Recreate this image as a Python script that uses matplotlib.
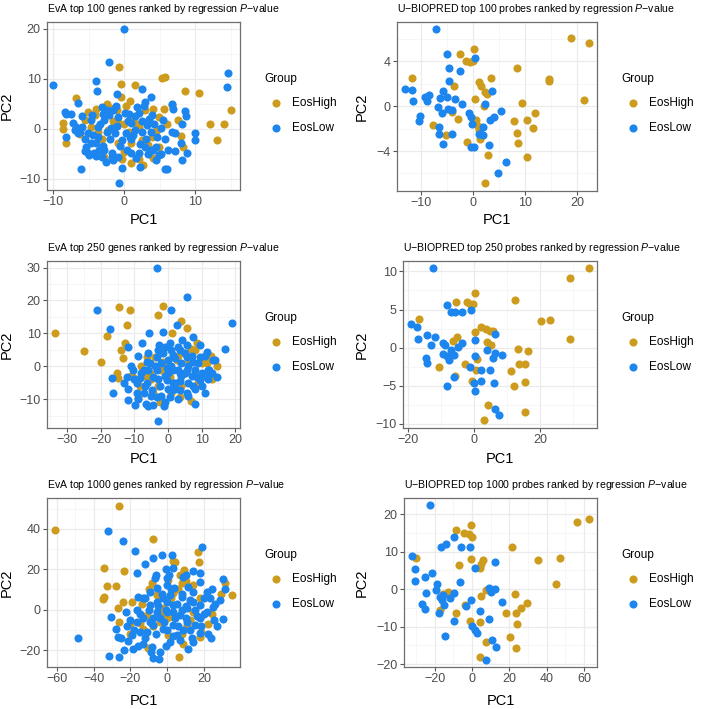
import matplotlib
matplotlib.use("Agg")
import matplotlib.pyplot as plt
from matplotlib.ticker import MultipleLocator

plt.rcParams["font.family"] = ["Liberation Sans", "DejaVu Sans"]
plt.rcParams["mathtext.fontset"] = "custom"
plt.rcParams["mathtext.it"] = "Liberation Sans:italic"
plt.rcParams["mathtext.rm"] = "Liberation Sans"

HIGH = "#CD9B1D"
LOW = "#1C86EE"

groups = ["EosHigh", "EosLow"]

# EvA top 100
eva100_high_x = [-0.7, -0.5, 1.5, -6.8, -0.5, 5.3, 5.7, 8.5, 10.5, 15.0, 12.1, 14.0, 13.0, 6.7, 5.6, 4.9,
                 7.5, 8.0, 8.2, -8.6, -8.6, -8.2, -5.1, -4.2, -2.0, 0.3, -1.1, -0.9, 0.0, 1.3, 2.9, 4.0,
                 4.6, 3.9, 2.5, 2.9, 1.0, -0.9, -0.1, 1.0, 2.6, 4.1, -2.9, -3.7, -4.7, -5.6, -2.3, 4.9,
                 2.0, 0.6, -6.2, -3.2, -1.6, 1.8, 3.4, -2.5, 0.8, -4.0, 6.0, 2.0, -0.3, 5.0]
eva100_high_y = [12.3, 8.9, 8.7, 6.2, 6.3, 10.1, 10.4, 7.6, 7.1, 3.7, 1.0, 0.9, -2.3, 4.7, 3.9, 2.4,
                 1.7, -1.5, -3.6, 1.1, 0.0, -2.8, 3.4, 2.7, 4.1, 4.5, 3.7, 1.4, 0.9, 2.4, 3.7, 3.9,
                 -0.3, -1.6, -2.3, -2.6, -2.9, -2.9, -4.6, -6.9, -7.3, -5.9, -5.6, -0.6, 0.4, 1.7, -0.3, -3.6,
                 0.4, -0.6, -1.0, -2.0, 1.5, 1.0, -3.2, 5.0, 5.5, 4.0, 1.0, -6.0, -6.0, -5.0]
eva100_low_x = [0.0, -2.2, -10.1, -4.0, -3.9, 2.5, 3.7, 2.9, -1.0, -6.6, 6.7, 6.8, 8.5, 8.7, 5.5, 5.1,
                8.1, 7.2, 6.7, 9.9, 10.0, 8.0, 7.1, 8.9, 8.1, 5.7, 6.0, 5.2, 4.4, 2.2, -0.4, -0.8,
                -6.1, -5.1, -5.4, -8.2, -8.2, -7.3, 14.6, 14.5, -3.2, -2.5, -1.6, -0.9, 0.1, 1.8, 2.0, 3.9,
                -2.8, -3.7, -4.7, -5.9, -6.3, -5.1, -3.7, -2.5, -1.3, -0.4, 0.8, 1.5, 2.5, 2.9, 2.0, 1.0,
                -0.9, -1.8, -2.8, -4.0, -4.7, -3.2, -1.6, 3.7, 4.4, 4.9, 4.6, 3.7, 3.2, 1.0, 0.3, -7.0,
                -6.6, -5.5, -4.3, -3.0, -2.0, -1.0, 0.5, 1.5, 2.5, 3.5, -6.0, -7.5, -8.4, -6.8, -5.6, -4.4,
                -3.4, -2.2, -1.2, 0.6, 1.2, 2.2, 3.3, 1.6, 0.4, -0.6, -1.7, -2.6, -3.6, 4.2, 5.8, 6.2,
                -1.9, 0.9, -4.6, -3.0, 2.8, -5.0, -4.0, 3.0, 4.0]
eva100_low_y = [20.0, 13.4, 8.7, 9.6, 7.6, 7.9, 6.4, 5.4, 6.9, 5.1, 4.9, 3.9, 3.6, 2.6, 1.7, 0.1,
                0.9, -0.8, -0.6, -0.9, -2.3, -2.8, -4.4, -4.9, -6.3, -8.0, -8.0, -5.1, -6.3, -7.6, -7.8, -10.8,
                -8.0, -4.8, -3.6, 2.9, -1.7, 1.1, 11.2, 8.3, 4.4, 3.7, 3.7, 2.4, 3.2, 4.4, 3.1, 2.7,
                1.7, 0.4, 1.7, 0.4, -0.6, -0.9, -1.6, -0.6, -0.9, -2.3, -1.6, -0.3, -0.6, -3.6, -4.9, -4.9,
                -5.6, -4.9, -4.3, -2.9, -2.9, -5.6, -6.3, -4.3, -3.6, -5.3, -1.6, -0.6, 0.7, 1.1, -0.9, -0.3,
                -0.9, -4.5, -4.8, -3.5, -2.0, 0.5, 1.5, 2.5, 1.5, 2.0, 2.5, 3.0, 3.4, 0.3, -2.0, -1.2,
                1.0, 2.8, 4.6, 3.0, -1.2, -3.0, -5.0, -5.8, -4.2, -3.4, -5.6, -6.6, -4.2, 1.0, -2.0, -4.2,
                0.2, -2.0, 2.8, 3.0, 4.6, -5.2, -5.5, -2.0, -4.2]

# U-BIOPRED top 100
ub100_high_x = [18.7, 22.2, 21.3, 14.5, 14.5, 8.4, 3.3, 0.2, -2.6, -1.5, -0.6, 0.0, 1.1, 1.5, 2.2, 2.7,
                0.3, 2.1, -11.8, -3.8, -4.2, -2.9, 0.5, 0.8, 1.0, 1.3, -1.3, -5.3, -7.7, 2.9, 2.2, 9.3,
                7.9, 10.4, 11.9, 11.5, 8.4, 8.6, 10.4]
ub100_high_y = [6.10, 5.63, 0.54, 2.41, 2.23, 3.36, 2.47, 5.06, 4.61, 4.05, 3.96, 4.05, 2.17, 1.79, 1.28, 1.07,
                0.68, 0.0, 2.53, 1.79, -0.51, -1.16, -1.19, -1.79, -2.14, -2.89, -3.18, -2.59, -1.70, -4.32, -6.85, 0.24,
                -1.31, -1.25, -0.65, -1.93, -2.35, -3.27, -4.52]
ub100_low_x = [-7.2, -5.1, 0.3, -4.7, -2.5, -4.7, -13.1, -11.9, -11.7, -9.3, -8.5, -9.0, -6.5, -5.8, -5.1, -3.5,
               -2.2, -6.9, -4.8, -4.2, -6.1, -10.2, -10.4, -0.8, -0.4, -0.2, -6.7, -6.7, -4.2, -5.8, -0.4, 0.2,
               1.0, 1.9, 1.9, 3.2, 4.0, 5.3, 3.5, 2.2, 3.0, 6.2, 4.7, 1.3]
ub100_low_y = [6.85, 4.64, 4.26, 3.36, 3.10, 2.26, 1.52, 1.43, 0.42, 0.83, 0.98, 0.48, 0.77, 1.34, 0.83, 0.60,
               0.15, -0.06, -0.21, -0.36, -0.65, -0.89, -1.31, -0.57, -1.01, -1.61, -1.85, -2.44, -2.44, -3.33, -3.63, -3.63,
               -2.44, -2.59, -1.85, -1.25, -1.01, -0.42, 1.34, 0.18, -3.48, -4.97, -5.92, -2.44]

# EvA top 250
eva250_high_x = [-33.6, -25.0, -19.9, -18.2, -14.6, -11.3, -12.3, -12.8, -14.1, -13.5, -3.1, -1.4, 3.9, 5.5, 1.3, -15.2,
                 -15.0, -10.3, -8.8, -6.3, -3.9, -1.4, -0.4, 2.6, 4.6, 6.9, 8.5, 12.7, 14.5, 9.5, 3.6, 6.9,
                 -2.4, -5.3, 0.6, -8.3, 5.1, 11.5, -4.4, 2.6, -8.0, -5.0, -2.0, 3.0, 6.0, 8.0, 10.0, 12.0,
                 -3.0, 1.0, 4.0, -11.0, -7.0, 9.0, 13.0]
eva250_high_y = [10.0, 4.7, 1.4, 9.2, 18.0, 17.0, 12.5, 7.0, 4.9, 2.6, 15.6, 18.4, 13.7, 11.5, 10.2, -1.9,
                 -3.5, -3.1, -9.7, 2.9, 2.9, 1.4, 0.4, 1.9, 3.9, 5.4, 7.0, 3.1, 0.1, -3.1, -9.2, -10.4,
                 -10.7, -2.1, -3.1, -6.1, -2.1, 0.9, -8.2, -5.1, 0.0, -4.0, -1.0, 3.0, 2.0, 5.0, 1.0, 2.0,
                 -6.0, -8.0, -6.0, -3.0, -3.0, -5.0, -4.0]
eva250_low_x = [-3.4, 5.5, -21.0, 0.9, -17.2, 19.1, 2.8, 16.8, -5.7, -1.4, 7.3, -7.8, -2.6, 9.5, -11.8, 11.5,
                -16.6, -16.4, -12.3, -11.8, -12.0, -9.8, -6.5, -4.4, -3.0, -1.2, 0.6, 8.0, 10.9, 14.7, 12.3, -10.3,
                -8.3, -6.3, -4.9, -2.4, -0.4, 1.6, 3.6, 5.5, 7.5, 9.5, 11.5, -5.3, -3.4, -1.4, 1.6, 3.6,
                5.5, 7.5, 9.5, 13.5, 1.6, 3.6, 5.5, -0.4, -3.4, -7.3, -4.4, 1.1, 3.6, 8.5, -9.3, -7.3,
                4.1, 5.5, 0.6, -9.3, -3.4, -6.3, -8.0, -6.0, -4.0, -2.0, 0.0, 2.0, 4.0, 6.0, 8.0, 10.0,
                12.0, -10.0, -7.0, -5.0, -2.0, 0.0, 2.0, 4.0, 6.0, 8.0, 10.0, 12.0, -3.0, -1.0, 1.0, 3.0,
                5.0, 7.0, 9.0, 11.0, 13.0, -6.0, -9.0, -11.0, -13.0, -9.0, -6.0, -1.0, 3.0, 6.0, 14.0, 1.0,
                -1.0, 3.0, 5.0, 7.0, -3.0, 0.0, 2.0]
eva250_low_y = [29.9, 21.0, 17.0, 17.0, 11.4, 13.3, 12.7, 5.3, 10.0, 10.4, 9.0, 7.0, 6.5, 6.5, 5.9, 4.4,
                -3.7, -8.1, -3.1, -7.0, -10.2, -11.7, -11.4, -11.7, -16.5, -12.2, -9.2, -11.4, -8.0, -3.1, -1.1, -1.1,
                -3.6, -5.1, -7.2, -6.1, -4.1, -5.1, -7.2, -8.2, -6.1, -4.1, -3.1, 0.9, 2.9, 3.9, 3.4, 4.9,
                2.9, 1.4, 2.9, 1.9, -1.1, -2.1, -1.1, -0.6, -1.1, -1.1, -3.1, -7.2, -4.6, -3.1, -5.1, -8.2,
                8.0, 6.5, 7.0, -8.2, -9.2, 1.4, -2.0, -1.0, 0.0, 1.0, 2.0, 2.5, 1.0, 0.0, -1.0, -2.0,
                -1.0, -4.0, -6.0, -9.0, -9.0, -7.0, -5.0, -3.0, -5.0, -7.0, -6.0, -4.0, 5.0, 6.0, 5.0, 6.0,
                4.0, 3.0, 1.0, 3.0, -2.0, 4.0, 3.0, 0.0, -5.0, -10.0, -12.0, -11.0, -10.0, -9.0, 2.0, 0.0,
                -3.0, -1.0, -2.0, -3.0, -4.0, -2.0, -7.0]

# U-BIOPRED top 250
ub250_high_x = [34.7, 28.9, 28.9, 23.0, 20.3, 12.5, 0.2, -5.5, -2.0, -1.3, -0.3, -16.7, 0.4, 2.0, 3.7, 4.7,
                5.7, 4.0, 5.0, -6.3, -5.0, 13.3, 16.3, 13.7, 15.5, 11.1, 12.2, 15.3, 15.3, 4.2, 2.9, -10.6,
                -2.8, -0.5, 1.0, 0.7, -5.8]
ub250_high_y = [10.4, 9.2, 1.1, 3.6, 3.5, 6.3, 7.2, 6.0, 6.0, 5.7, 5.7, 3.7, 2.0, 2.7, 2.4, 2.2,
                2.2, 0.8, 0.35, 0.9, 1.35, -0.2, -0.4, -2.2, -2.1, -3.0, -5.0, -4.5, -8.5, -7.5, -9.5, -2.6,
                -2.2, -4.4, -1.5, -2.9, -3.7]
ub250_low_x = [-12.4, -8.2, -6.8, -5.8, -3.6, -0.8, -18.9, -17.1, -16.9, -14.1, -11.7, -13.1, -9.3, -8.8, -9.2, -8.0,
               -7.5, -6.8, -6.0, -4.8, -3.6, -14.4, -14.1, -6.0, -8.2, -1.3, 0.2, 0.2, 2.2, 4.0, 4.7, 5.7,
               6.2, 6.4, 8.5, 6.0, 2.0, 0.0, 0.2, 6.4, 7.5]
ub250_low_y = [10.5, 5.6, 4.7, 4.7, 4.7, 4.9, 3.1, 2.7, 1.2, 1.7, 1.4, 0.4, 0.6, 0.35, -0.8, -1.1,
               -1.6, -0.3, -1.0, 0.1, 0.65, -1.4, -2.0, -3.8, -5.0, -2.5, 1.0, -1.1, -2.9, -0.3, -2.9, -1.4,
               1.8, -0.7, -1.0, -4.7, -4.4, -4.7, -5.7, -8.1, -8.9]

# EvA top 1000
eva1000_high_x = [-60.7, -26.1, -7.6, -34.6, -23.4, -27.9, -32.8, -34.6, -34.9, -24.1, -26.5, -19.3, -26.3, -20.5, -10.3, 6.5,
                  3.2, 4.1, 16.8, 17.3, 6.8, 9.2, -8.5, 0.2, 3.2, 7.7, 10.1, 31.2, 28.8, 34.8, 22.2, 17.7,
                  8.6, -4.0, -11.2, -14.8, -2.2, 3.2, 10.5, 14.1, 17.7, -5.8, -13.0, 0.5, -14.0, -8.0, -3.0, 2.0,
                  6.0, 12.0, 18.0, 24.0, -20.0, 0.0, 8.0, 14.0, -10.0]
eva1000_high_y = [39.5, 51.4, 35.0, 20.8, 19.2, 11.7, 11.7, 6.4, 5.1, 4.0, 0.7, 4.0, -6.0, -7.3, -18.8, -23.3,
                  24.1, 23.8, 28.4, 23.5, 17.2, 19.7, 13.1, 14.7, 8.1, 13.1, 14.2, 13.1, 7.6, 7.3, -7.3, -13.4,
                  -16.7, -6.0, -2.6, -6.8, 0.7, -3.5, -7.6, -1.0, 5.6, 7.3, -9.3, -12.6, 3.0, -8.0, -2.0, 6.0,
                  10.0, -5.0, -11.0, -2.0, -12.0, -4.0, -12.0, 12.0, 10.0]
eva1000_low_x = [-48.6, -32.4, -23.8, -17.5, -12.1, -7.6, -3.1, 2.7, 18.9, -16.6, -0.9, 3.2, 14.1, 17.7, -6.7, -0.4,
                 8.3, 29.9, 31.4, 28.5, 29.9, 23.4, -30.5, -27.6, -27.0, -31.9, -26.1, -23.4, -18.7, -21.1, -22.3, -16.6,
                 -15.7, -13.0, -9.4, -5.8, -0.4, 3.8, 11.4, 17.7, 21.3, 23.1, 24.9, 21.3, 17.7, 14.9, 13.2, 11.4,
                 5.0, 1.4, -4.0, -7.6, -4.3, -8.5, -13.0, -11.2, -14.8, -7.6, -4.0, -0.4, 3.2, 6.8, 10.5, 14.1,
                 17.7, -5.8, -9.4, -13.0, -9.4, -2.2, 3.2, 8.6, 17.7, -2.2, 1.4, 7.7, 3.2, -5.8, 10.5, -16.6,
                 -19.3, -20.0, -15.0, -10.0, -5.0, 0.0, 5.0, 10.0, 15.0, 20.0, 25.0, -18.0, -12.0, -6.0, 0.0, 6.0,
                 12.0, 18.0, 22.0, -3.0, 2.0, 8.0, 14.0, 20.0, 26.0, -8.0, -2.0, 4.0, 10.0, 16.0, -12.0, -22.0,
                 -25.0, -16.0, -9.0, -1.0, 7.0, 14.0, 27.0, 24.0, -6.0, 1.0, 10.0, -1.0, 3.0, 8.0, 12.0]
eva1000_low_y = [-14.2, 38.7, 34.0, 29.1, 22.5, 25.8, 27.1, 27.1, 31.2, 18.0, 20.2, 20.8, 19.2, 18.0, 15.5, 15.9,
                 16.4, 15.2, 10.2, 4.8, -4.6, -13.9, -3.8, -9.6, -13.4, -23.0, -23.3, -20.0, -19.5, -15.5, -1.0, -0.2,
                 6.4, 5.6, 8.9, 10.6, 12.2, 10.6, 11.4, 13.9, 8.9, 5.6, 1.5, -1.0, -4.3, -7.6, -14.2, -19.2,
                 -12.6, -15.9, -20.8, -24.1, -24.5, -18.3, -16.7, -10.9, -10.9, -7.6, -4.3, -1.0, 2.3, -2.6, 0.7, 4.0,
                 2.3, 4.0, 2.3, -4.3, -6.0, -9.3, -7.6, -10.1, -11.7, 5.6, 7.3, 6.4, -1.0, -1.0, -6.0, -6.0,
                 -12.6, -5.0, -2.0, 0.0, 2.0, 4.0, 3.0, 2.0, 0.0, -2.0, -5.0, -10.0, -14.0, -12.0, -10.0, -8.0,
                 -10.0, -8.0, -12.0, 8.0, 10.0, 8.0, 9.0, 6.0, 3.0, -4.0, -6.0, -4.0, -4.0, -3.0, 6.0, -8.0,
                 -14.0, -18.0, -21.0, -18.0, -15.0, -16.0, -8.0, 10.0, 17.0, 17.0, 17.0, 0.0, -13.0, 0.0, 5.0]

# U-BIOPRED top 1000
ub1000_high_x = [-30.2, -8.4, -4.3, -1.6, -0.7, 0.0, -7.1, -0.7, 4.6, 4.1, 5.9, 21.6, 35.4, 47.3, 45.2, 56.3,
                 62.5, 5.0, 7.7, 10.0, -17.3, -15.5, -12.9, -8.4, -3.9, -0.9, 4.1, 7.3, 4.1, 18.0, 22.9, 23.4,
                 26.4, 29.3, 24.1, 20.2, 23.4]
ub1000_high_y = [8.2, 15.8, 14.9, 14.7, 17.0, 13.8, 6.3, 8.0, 6.6, 5.5, 7.8, 11.3, 7.8, 8.4, 1.3, 18.0,
                 18.7, -1.9, -0.3, -0.3, -5.6, -1.2, -0.9, -6.3, -4.3, -8.4, -8.8, -14.1, -18.1, -6.5, -1.2, -6.3,
                 -5.0, -3.7, -9.2, -12.8, -15.7]
ub1000_low_x = [-22.3, -32.0, -30.7, -30.7, -21.3, -25.0, -24.5, -26.6, -25.4, -18.8, -19.1, -17.3, -16.1, -15.0, -17.9, -14.6,
                -11.6, -9.8, -9.6, -16.8, -14.1, -9.8, -5.7, -0.9, -6.3, -3.4, -0.4, 1.4, 0.0, 1.4, 2.7, 4.5,
                9.1, 9.1, 10.0, 12.1, 12.5, 16.1, 10.7, 13.0, 7.7, -15.5]
ub1000_low_y = [22.3, 8.9, 5.3, 2.2, 4.4, 3.1, -1.0, -4.0, -5.4, 1.3, -0.3, -2.1, -2.9, -4.3, -6.5, -12.5,
                -2.5, -1.0, -8.5, 11.1, 12.1, 13.9, 11.1, 11.3, 1.8, -4.6, -2.9, 5.5, -9.9, -10.8, -11.7, -5.9,
                -7.9, 0.4, -0.7, 0.0, 7.1, -3.4, -13.7, -15.4, -18.8, -1.6]

titles = [
    "EvA top 100 genes ranked by regression $P$\u2212value",
    "U\u2212BIOPRED top 100 probes ranked by regression $P$\u2212value",
    "EvA top 250 genes ranked by regression $P$\u2212value",
    "U\u2212BIOPRED top 250 probes ranked by regression $P$\u2212value",
    "EvA top 1000 genes ranked by regression $P$\u2212value",
    "U\u2212BIOPRED top 1000 probes ranked by regression $P$\u2212value",
]

panels = [
    dict(hx=eva100_high_x, hy=eva100_high_y, lx=eva100_low_x, ly=eva100_low_y,
         box=(47, 22, 240, 190), xlim=(-10.9, 16.3), ylim=(-12.3, 21.4), xmaj=10, ymaj=10, xlab=213),
    dict(hx=ub100_high_x, hy=ub100_high_y, lx=ub100_low_x, ly=ub100_low_y,
         box=(397, 22, 597, 191), xlim=(-14.7, 23.8), ylim=(-7.56, 7.5), xmaj=10, ymaj=4, xlab=213),
    dict(hx=eva250_high_x, hy=eva250_high_y, lx=eva250_low_x, ly=eva250_low_y,
         box=(47, 261, 240, 428), xlim=(-36.0, 21.4), ylim=(-18.75, 32.0), xmaj=10, ymaj=10, xlab=452),
    dict(hx=ub250_high_x, hy=ub250_high_y, lx=ub250_low_x, ly=ub250_low_y,
         box=(403, 261, 597, 428), xlim=(-21.4, 37.1), ylim=(-10.54, 11.37), xmaj=20, ymaj=5, xlab=452),
    dict(hx=eva1000_high_x, hy=eva1000_high_y, lx=eva1000_low_x, ly=eva1000_low_y,
         box=(47, 498, 240, 667), xlim=(-65.2, 39.3), ylim=(-28.3, 55.2), xmaj=20, ymaj=20, xlab=694),
    dict(hx=ub1000_high_x, hy=ub1000_high_y, lx=ub1000_low_x, ly=ub1000_low_y,
         box=(404, 498, 597, 667), xlim=(-36.4, 67.0), ylim=(-20.8, 24.3), xmaj=20, ymaj=10, xlab=694),
]

W = H = 709
fig = plt.figure(figsize=(W / 100, H / 100), dpi=100)

for i, p in enumerate(panels):
    l, t, r, b = p["box"]
    ax = fig.add_axes([l / W, 1 - b / H, (r - l) / W, (b - t) / H])
    ax.scatter(p["hx"], p["hy"], s=34, color=HIGH, linewidths=0, label=groups[0], zorder=3)
    ax.scatter(p["lx"], p["ly"], s=34, color=LOW, linewidths=0, label=groups[1], zorder=3)
    ax.set_xlim(p["xlim"])
    ax.set_ylim(p["ylim"])
    ax.xaxis.set_major_locator(MultipleLocator(p["xmaj"]))
    ax.xaxis.set_minor_locator(MultipleLocator(p["xmaj"] / 2))
    ax.yaxis.set_major_locator(MultipleLocator(p["ymaj"]))
    ax.yaxis.set_minor_locator(MultipleLocator(p["ymaj"] / 2))
    ax.grid(which="major", color="#EBEBEB", lw=0.9, zorder=0)
    ax.grid(which="minor", color="#F3F3F3", lw=0.5, zorder=0)
    ax.set_axisbelow(True)
    for sp in ax.spines.values():
        sp.set_color("#6E6E6E")
        sp.set_linewidth(0.9)
    ax.tick_params(which="major", length=3, width=0.8, color="#555555",
                   labelsize=9, labelcolor="#4D4D4D", pad=1.5)
    ax.tick_params(which="minor", length=0)

    ax.set_title(titles[i], loc="left", fontsize=7.6, pad=7)
    ax.set_xlabel("PC1", fontsize=10.5)
    ax.set_ylabel("PC2", fontsize=10.5)
    ax.xaxis.set_label_coords((l + r) / 2 / W, 1 - p["xlab"] / H, transform=fig.transFigure)
    px = 14 if l < 200 else 369
    ax.yaxis.set_label_coords(px / W, 1 - (t + b) / 2 / H, transform=fig.transFigure)

    leg = ax.legend(title="Group", loc="upper left", frameon=False, fontsize=8.5,
                    title_fontsize=8.5, alignment="left", markerscale=1.0,
                    handlelength=2.0, handletextpad=0.4, labelspacing=1.05,
                    borderpad=0, borderaxespad=0,
                    bbox_to_anchor=((r + 24) / W, 1 - (t + 51) / H),
                    bbox_transform=fig.transFigure)

fig.savefig("out.png", dpi=100)
